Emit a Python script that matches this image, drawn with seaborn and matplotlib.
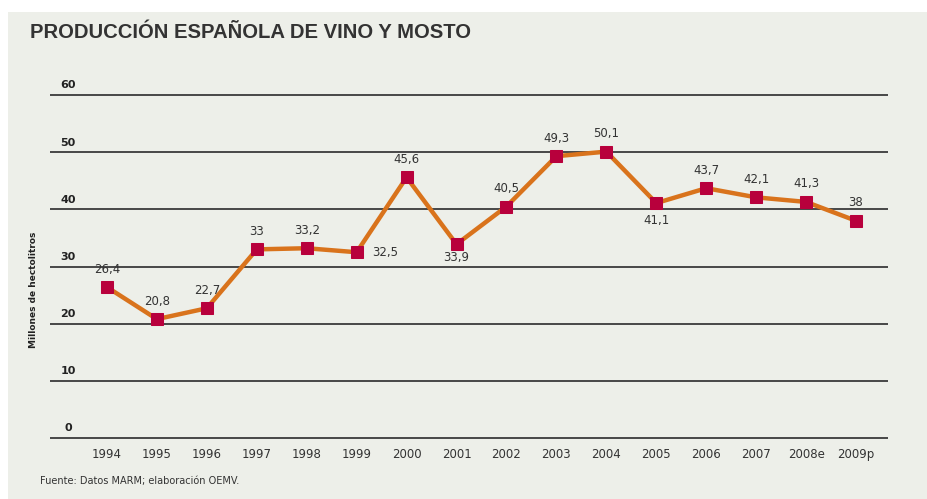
import matplotlib
matplotlib.use('Agg')
import matplotlib.pyplot as plt
import matplotlib.transforms as mtransforms
import seaborn as sns
import numpy as np

# datos
years = ['1994', '1995', '1996', '1997', '1998', '1999', '2000', '2001',
         '2002', '2003', '2004', '2005', '2006', '2007', '2008e', '2009p']
production = [26.4, 20.8, 22.7, 33, 33.2, 32.5, 45.6, 33.9,
              40.5, 49.3, 50.1, 41.1, 43.7, 42.1, 41.3, 38]
value_labels = ['26,4', '20,8', '22,7', '33', '33,2', '32,5', '45,6', '33,9',
                '40,5', '49,3', '50,1', '41,1', '43,7', '42,1', '41,3', '38']
y_ticks = [0, 10, 20, 30, 40, 50, 60]

# posicion de cada etiqueta (pixeles): arriba, abajo o a la derecha
label_offsets = {5: (29, 0), 7: (0, -13), 11: (0, -17)}

BG = '#edefe9'
narrow = ['Liberation Sans Narrow', 'DejaVu Sans']

sns.set_theme(style='white')
plt.rcParams['font.family'] = ['Liberation Sans', 'DejaVu Sans']

fig = plt.figure(figsize=(9.28, 4.99), dpi=100)
fig.patch.set_facecolor('white')
fig.patches.append(plt.Rectangle((8 / 928, 0), 1, 487 / 499, transform=fig.transFigure,
                                 facecolor=BG, edgecolor='none', zorder=-10))

ax = fig.add_axes([50 / 928, 58.1 / 499, 838 / 928, 351.6 / 499])
ax.set_facecolor('none')

x = np.arange(len(years))
sns.lineplot(x=x, y=production, ax=ax, color='#d9731c', linewidth=3.2,
             marker='s', markersize=8, markerfacecolor='#b8003c',
             markeredgecolor='#b8003c', zorder=3)

for i, (v, lab) in enumerate(zip(production, value_labels)):
    dx, dy = label_offsets.get(i, (0, 18))
    ax.annotate(lab, (i, v), xytext=(dx * 0.72, dy * 0.72), textcoords='offset points',
                ha='center', va='center', fontsize=8.5, color='#333333', family=narrow)

ax.set_xlim(-1.14, 15.64)
ax.set_ylim(-0.5, 61)
for t in y_ticks:
    ax.axhline(t, color='#3a3a3a', linewidth=1.3, zorder=1)
    ax.text(18 / 838, t + 0.8, str(t), transform=mtransforms.blended_transform_factory(ax.transAxes, ax.transData),
            ha='center', va='bottom', fontsize=8, color='#222222', family=narrow, fontweight='bold')

ax.set_yticks([])
ax.set_xticks(x)
ax.set_xticklabels(years, fontsize=8.5, color='#333333', family=narrow)
ax.tick_params(axis='x', length=0, pad=5)
for s in ax.spines.values():
    s.set_visible(False)
ax.set_xlabel('')
ax.set_ylabel('')

fig.text(33 / 928, 1 - 290 / 499, 'Millones de hectolitros', rotation=90, ha='center', va='center',
         fontsize=6.5, fontweight='bold', color='#222222', family=narrow)
fig.text(30 / 928, 1 - 33 / 499, 'PRODUCCIÓN ESPAÑOLA DE VINO Y MOSTO', ha='left', va='center',
         fontsize=14.6, fontweight='bold', color='#333333')
fig.text(40 / 928, 1 - 481 / 499, 'Fuente: Datos MARM; elaboración OEMV.', ha='left', va='center',
         fontsize=7, color='#333333', family=narrow)

fig.savefig('out.png', dpi=100, facecolor=fig.get_facecolor())
